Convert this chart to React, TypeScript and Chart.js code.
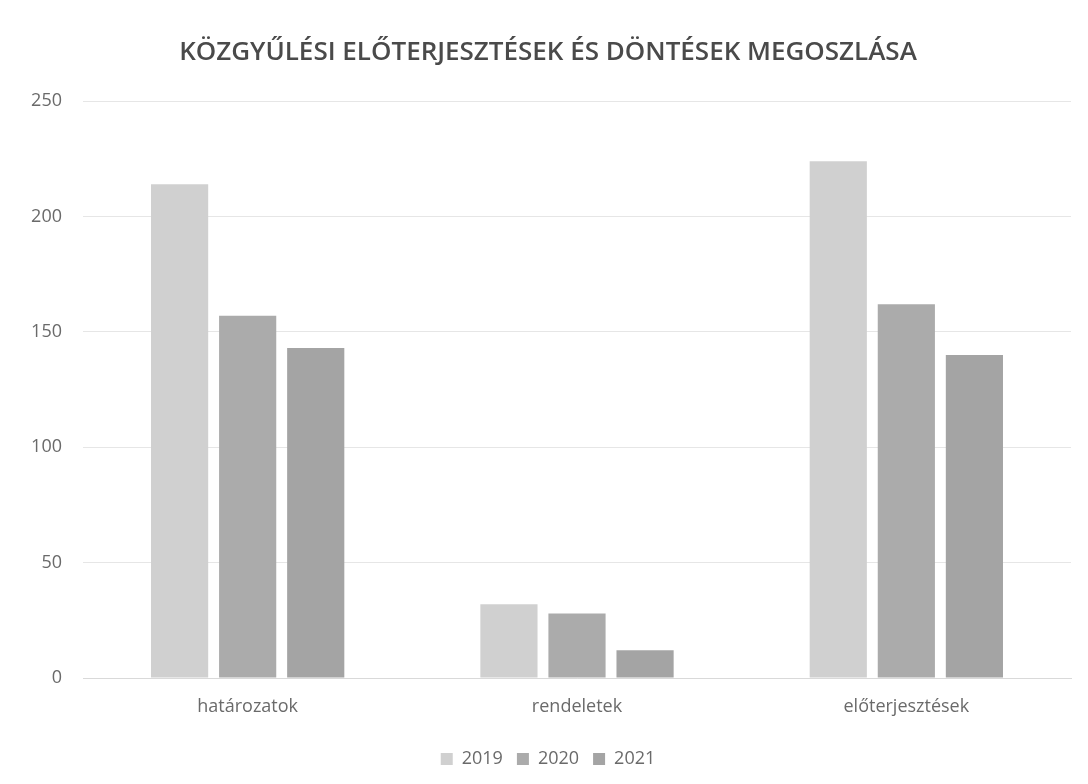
import React, { useEffect, useRef } from "react";
import { Chart, registerables } from "chart.js";

Chart.register(...registerables);

const title = "KÖZGYŰLÉSI ELŐTERJESZTÉSEK ÉS DÖNTÉSEK MEGOSZLÁSA";
const categories = ["határozatok", "rendeletek", "előterjesztések"];
const seriesNames = ["2019", "2020", "2021"];
const values2019 = [214, 32, 224];
const values2020 = [157, 28, 162];
const values2021 = [143, 12, 140];
const seriesColors = ["#d0d0d0", "#ababab", "#a4a4a4"];
const yTicks = [0, 50, 100, 150, 200, 250];

export default function App() {
  const ref = useRef<HTMLCanvasElement | null>(null);
  useEffect(() => {
    if (!ref.current) return;
    const font = "'Open Sans', 'DejaVu Sans', sans-serif";
    const chart = new Chart(ref.current, {
      type: "bar",
      data: {
        labels: categories,
        datasets: [values2019, values2020, values2021].map((d, i) => ({
          label: seriesNames[i],
          data: d,
          backgroundColor: seriesColors[i],
          borderWidth: 0,
          categoryPercentage: 0.62,
          barPercentage: 0.84,
        })),
      },
      options: {
        animation: false,
        responsive: false,
        maintainAspectRatio: false,
        layout: { padding: { left: 25, right: 17, top: 0, bottom: 6 } },
        plugins: {
          title: {
            display: true,
            text: title,
            color: "#4a4a4a",
            font: { family: font, size: 26, weight: "600" },
            padding: { top: 37, bottom: 33 },
          },
          legend: {
            position: "bottom",
            labels: {
              color: "#6a6a6a",
              font: { family: font, size: 18 },
              boxWidth: 12,
              boxHeight: 12,
              padding: 14,
            },
          },
          tooltip: { enabled: false },
        },
        scales: {
          x: {
            grid: { display: false, drawTicks: false },
            border: { display: true, color: "#d9d9d9", width: 1 },
            ticks: { color: "#6a6a6a", font: { family: font, size: 18 }, padding: 18 },
            afterFit: (s: any) => { s.height = 58; },
          },
          y: {
            min: 0,
            max: 250,
            afterBuildTicks: (s: any) => { s.ticks = yTicks.map((v) => ({ value: v })); },
            grid: { color: "#e6e6e6", drawTicks: false },
            border: { display: false },
            ticks: { color: "#6a6a6a", font: { family: font, size: 18 }, padding: 21 },
            afterFit: (s: any) => { s.width = 58; },
          },
        },
      },
    });
    return () => chart.destroy();
  }, []);
  return (
    <div style={{ position: "fixed", left: 0, top: 0, width: 1088, height: 784, background: "#fff" }}>
      <canvas ref={ref} width={1088} height={784} style={{ width: 1088, height: 784 }} />
    </div>
  );
}
